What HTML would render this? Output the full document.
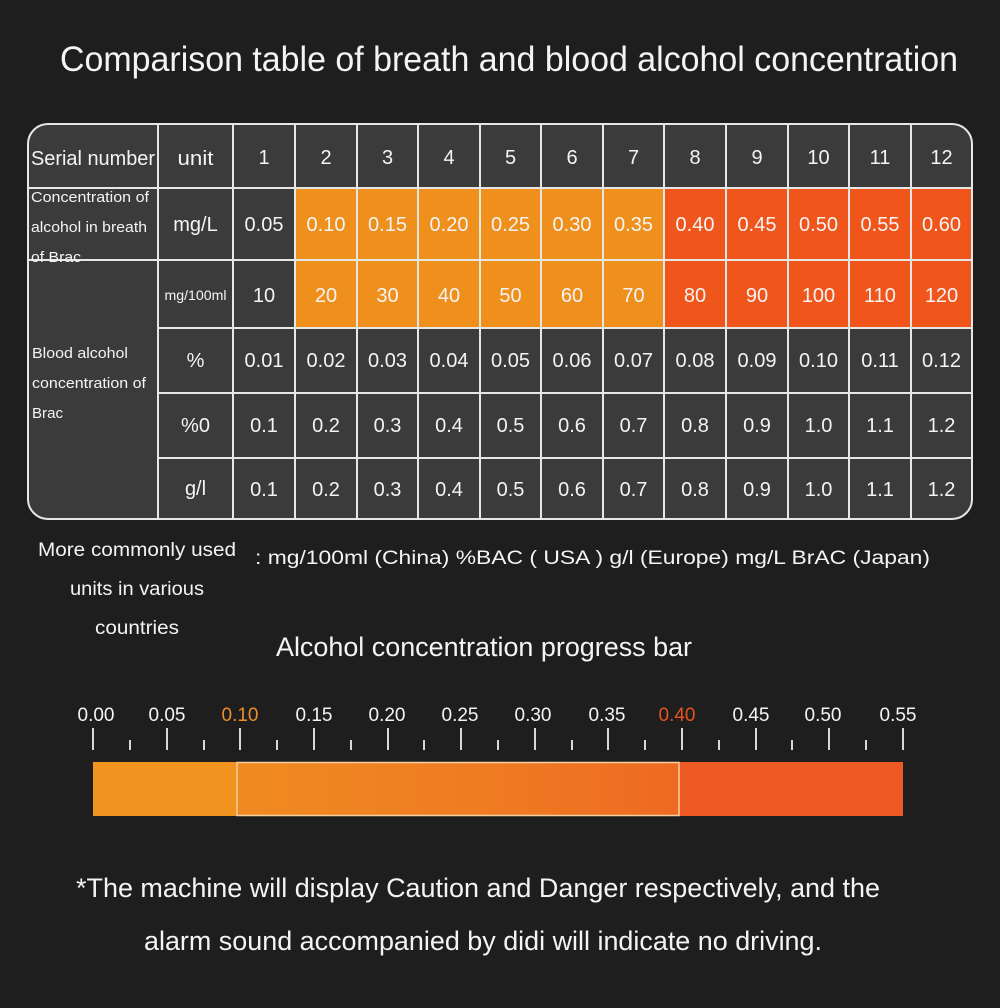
<!DOCTYPE html>
<html><head><meta charset="utf-8"><style>
html,body{margin:0;padding:0;background:#1e1e1e;}
svg{display:block;}
text{font-family:"Liberation Sans",sans-serif;fill:#f4f4f4;}
.n{font-size:20px;text-anchor:middle;}
</style></head><body>
<svg width="1000" height="1008" viewBox="0 0 1000 1008" xmlns="http://www.w3.org/2000/svg">
<defs>
<clipPath id="tb"><rect x="28" y="124" width="944" height="395" rx="20"/></clipPath>
<linearGradient id="g" x1="0" x2="1" y1="0" y2="0"><stop offset="0" stop-color="#f0931f"/><stop offset="0.5" stop-color="#ef7a22"/><stop offset="1" stop-color="#ee5623"/></linearGradient>
</defs>
<rect width="1000" height="1008" fill="#1e1e1e"/>
<text x="509" y="71" font-size="35" text-anchor="middle" textLength="898" lengthAdjust="spacingAndGlyphs">Comparison table of breath and blood alcohol concentration</text>

<g clip-path="url(#tb)">
<rect x="28" y="124" width="944" height="395" fill="#3b3b3b"/>
<rect x="295" y="188" width="369" height="140" fill="#ef8f1c"/>
<rect x="664" y="188" width="308" height="140" fill="#f0561c"/>
</g>
<g stroke="#e6e6e6" stroke-width="2" fill="none">
<rect x="28" y="124" width="944" height="395" rx="20"/>
<line x1="28" y1="188" x2="972" y2="188"/>
<line x1="28" y1="260" x2="972" y2="260"/>
<line x1="158" y1="328" x2="972" y2="328"/>
<line x1="158" y1="393" x2="972" y2="393"/>
<line x1="158" y1="458" x2="972" y2="458"/>
<line x1="158" y1="124" x2="158" y2="519"/>
<line x1="233" y1="124" x2="233" y2="519"/>
<line x1="295" y1="124" x2="295" y2="519"/>
<line x1="357" y1="124" x2="357" y2="519"/>
<line x1="418" y1="124" x2="418" y2="519"/>
<line x1="480" y1="124" x2="480" y2="519"/>
<line x1="541" y1="124" x2="541" y2="519"/>
<line x1="603" y1="124" x2="603" y2="519"/>
<line x1="664" y1="124" x2="664" y2="519"/>
<line x1="726" y1="124" x2="726" y2="519"/>
<line x1="788" y1="124" x2="788" y2="519"/>
<line x1="849" y1="124" x2="849" y2="519"/>
<line x1="911" y1="124" x2="911" y2="519"/>
</g>

<text x="31" y="165" font-size="20" textLength="124" lengthAdjust="spacingAndGlyphs">Serial number</text>
<text x="31" y="202" font-size="15" textLength="118" lengthAdjust="spacingAndGlyphs">Concentration of</text>
<text x="31" y="232" font-size="15" textLength="116" lengthAdjust="spacingAndGlyphs">alcohol in breath</text>
<text x="31" y="262" font-size="15" textLength="50" lengthAdjust="spacingAndGlyphs">of Brac</text>
<text x="32" y="358" font-size="15" textLength="96" lengthAdjust="spacingAndGlyphs">Blood alcohol</text>
<text x="32" y="388" font-size="15" textLength="114" lengthAdjust="spacingAndGlyphs">concentration of</text>
<text x="32" y="418" font-size="15" textLength="31" lengthAdjust="spacingAndGlyphs">Brac</text>

<text class="n" x="195.5" y="165" textLength="36" lengthAdjust="spacingAndGlyphs">unit</text>
<text class="n" x="195.5" y="231">mg/L</text>
<text class="n" x="195.5" y="300" style="font-size:14px" textLength="62" lengthAdjust="spacingAndGlyphs">mg/100ml</text>
<text class="n" x="195.5" y="367">%</text>
<text class="n" x="195.5" y="432">%0</text>
<text class="n" x="195.5" y="495">g/l</text>

<g>
<text class="n" x="264" y="164">1</text><text class="n" x="326" y="164">2</text><text class="n" x="387.5" y="164">3</text><text class="n" x="449" y="164">4</text><text class="n" x="510.5" y="164">5</text><text class="n" x="572" y="164">6</text><text class="n" x="633.5" y="164">7</text><text class="n" x="695" y="164">8</text><text class="n" x="757" y="164">9</text><text class="n" x="818.5" y="164">10</text><text class="n" x="880" y="164">11</text><text class="n" x="941.5" y="164">12</text>

<text class="n" x="264" y="231">0.05</text><text class="n" x="326" y="231">0.10</text><text class="n" x="387.5" y="231">0.15</text><text class="n" x="449" y="231">0.20</text><text class="n" x="510.5" y="231">0.25</text><text class="n" x="572" y="231">0.30</text><text class="n" x="633.5" y="231">0.35</text><text class="n" x="695" y="231">0.40</text><text class="n" x="757" y="231">0.45</text><text class="n" x="818.5" y="231">0.50</text><text class="n" x="880" y="231">0.55</text><text class="n" x="941.5" y="231">0.60</text>

<text class="n" x="264" y="302">10</text><text class="n" x="326" y="302">20</text><text class="n" x="387.5" y="302">30</text><text class="n" x="449" y="302">40</text><text class="n" x="510.5" y="302">50</text><text class="n" x="572" y="302">60</text><text class="n" x="633.5" y="302">70</text><text class="n" x="695" y="302">80</text><text class="n" x="757" y="302">90</text><text class="n" x="818.5" y="302">100</text><text class="n" x="880" y="302">110</text><text class="n" x="941.5" y="302">120</text>

<text class="n" x="264" y="367">0.01</text><text class="n" x="326" y="367">0.02</text><text class="n" x="387.5" y="367">0.03</text><text class="n" x="449" y="367">0.04</text><text class="n" x="510.5" y="367">0.05</text><text class="n" x="572" y="367">0.06</text><text class="n" x="633.5" y="367">0.07</text><text class="n" x="695" y="367">0.08</text><text class="n" x="757" y="367">0.09</text><text class="n" x="818.5" y="367">0.10</text><text class="n" x="880" y="367">0.11</text><text class="n" x="941.5" y="367">0.12</text>

<text class="n" x="264" y="432">0.1</text><text class="n" x="326" y="432">0.2</text><text class="n" x="387.5" y="432">0.3</text><text class="n" x="449" y="432">0.4</text><text class="n" x="510.5" y="432">0.5</text><text class="n" x="572" y="432">0.6</text><text class="n" x="633.5" y="432">0.7</text><text class="n" x="695" y="432">0.8</text><text class="n" x="757" y="432">0.9</text><text class="n" x="818.5" y="432">1.0</text><text class="n" x="880" y="432">1.1</text><text class="n" x="941.5" y="432">1.2</text>

<text class="n" x="264" y="496">0.1</text><text class="n" x="326" y="496">0.2</text><text class="n" x="387.5" y="496">0.3</text><text class="n" x="449" y="496">0.4</text><text class="n" x="510.5" y="496">0.5</text><text class="n" x="572" y="496">0.6</text><text class="n" x="633.5" y="496">0.7</text><text class="n" x="695" y="496">0.8</text><text class="n" x="757" y="496">0.9</text><text class="n" x="818.5" y="496">1.0</text><text class="n" x="880" y="496">1.1</text><text class="n" x="941.5" y="496">1.2</text>
</g>

<text x="137" y="556" font-size="19" text-anchor="middle" textLength="198" lengthAdjust="spacingAndGlyphs">More commonly used</text>
<text x="137" y="595" font-size="19" text-anchor="middle" textLength="134" lengthAdjust="spacingAndGlyphs">units in various</text>
<text x="137" y="634" font-size="19" text-anchor="middle" textLength="84" lengthAdjust="spacingAndGlyphs">countries</text>
<text x="255" y="564" font-size="19" textLength="675" lengthAdjust="spacingAndGlyphs">: mg/100ml (China)   %BAC ( USA )  g/l (Europe)   mg/L BrAC (Japan)</text>
<text x="276" y="656" font-size="27" textLength="416" lengthAdjust="spacingAndGlyphs">Alcohol concentration progress bar</text>

<g font-size="19" text-anchor="middle">
<text x="96" y="721">0.00</text><text x="167" y="721">0.05</text><text x="240" y="721" style="fill:#ec8f2a">0.10</text><text x="314" y="721">0.15</text><text x="387" y="721">0.20</text><text x="460" y="721">0.25</text><text x="533" y="721">0.30</text><text x="607" y="721">0.35</text><text x="677" y="721" style="fill:#e8521f">0.40</text><text x="751" y="721">0.45</text><text x="823" y="721">0.50</text><text x="898" y="721">0.55</text>
</g>
<g stroke="#d8d8d8" stroke-width="2">
<line x1="93" y1="728" x2="93" y2="750"/><line x1="130" y1="740" x2="130" y2="750"/>
<line x1="167" y1="728" x2="167" y2="750"/><line x1="204" y1="740" x2="204" y2="750"/>
<line x1="240" y1="728" x2="240" y2="750"/><line x1="277" y1="740" x2="277" y2="750"/>
<line x1="314" y1="728" x2="314" y2="750"/><line x1="351" y1="740" x2="351" y2="750"/>
<line x1="388" y1="728" x2="388" y2="750"/><line x1="424" y1="740" x2="424" y2="750"/>
<line x1="461" y1="728" x2="461" y2="750"/><line x1="498" y1="740" x2="498" y2="750"/>
<line x1="535" y1="728" x2="535" y2="750"/><line x1="572" y1="740" x2="572" y2="750"/>
<line x1="608" y1="728" x2="608" y2="750"/><line x1="645" y1="740" x2="645" y2="750"/>
<line x1="682" y1="728" x2="682" y2="750"/><line x1="719" y1="740" x2="719" y2="750"/>
<line x1="756" y1="728" x2="756" y2="750"/><line x1="792" y1="740" x2="792" y2="750"/>
<line x1="829" y1="728" x2="829" y2="750"/><line x1="866" y1="740" x2="866" y2="750"/>
<line x1="903" y1="728" x2="903" y2="750"/>
</g>
<rect x="93" y="762" width="810" height="54" fill="url(#g)"/>
<rect x="93" y="762" width="144" height="54" fill="#f0931f"/>
<rect x="679" y="762" width="224" height="54" fill="#ee5a23"/>
<g stroke="#f6d0a0" stroke-width="1.5" fill="none">
<rect x="237" y="762.5" width="442" height="53"/>
</g>

<text x="76" y="897" font-size="27" textLength="804" lengthAdjust="spacingAndGlyphs">*The machine will display Caution and Danger respectively, and the</text>
<text x="144" y="950" font-size="27" textLength="678" lengthAdjust="spacingAndGlyphs">alarm sound accompanied by didi will indicate no driving.</text>
</svg>
</body></html>
